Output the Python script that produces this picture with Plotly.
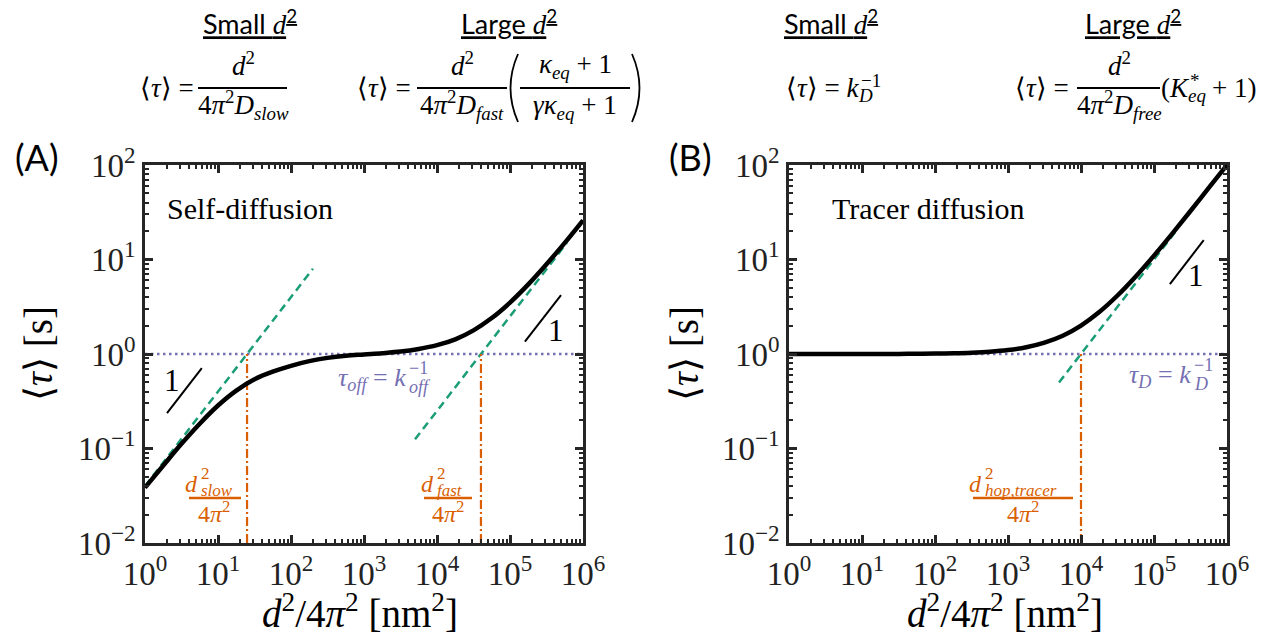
import plotly.graph_objects as go

W, H = 1266, 639

# ---------------- data ----------------
d2_grid = [1, 1.78, 3.16, 5.62, 10, 17.8, 31.6, 56.2, 100, 178, 316, 562, 1000,
           1780, 3160, 5620, 1e4, 1.78e4, 3.16e4, 5.62e4, 1e5, 1.78e5, 3.16e5, 5.62e5, 1e6]
tau_self = [0.0385, 0.066, 0.112, 0.183, 0.285, 0.41, 0.54, 0.65, 0.75, 0.84, 0.91, 0.96, 0.99,
            1.02, 1.06, 1.13, 1.24, 1.43, 1.78, 2.4, 3.5, 5.45, 8.9, 15.0, 26.0]
tau_tracer = [1.0001, 1.0002, 1.0003, 1.0006, 1.001, 1.002, 1.003, 1.006, 1.01, 1.018, 1.032, 1.056, 1.10,
              1.18, 1.32, 1.56, 2.0, 2.78, 4.16, 6.62, 11.0, 18.8, 32.6, 57.2, 100]

slow_asym_x, slow_asym_y = [1, 200], [0.04, 8]
fast_asym_x, fast_asym_y = [5000, 6e5], [0.125, 15]
tracer_asym_x, tracer_asym_y = [5000, 2e5], [0.5, 20]

plateau_x, plateau_y = [1, 1e6], [1, 1]

d2_slow = 25
d2_fast = 4e4
d2_hop = 1e4
vline_y = [0.01, 1]

slopeA1_x, slopeA1_y = [2, 6], [0.237, 0.71]
slopeA2_x, slopeA2_y = [1.6e5, 5e5], [1.35, 4.2]
slopeB_x, slopeB_y = [1.65e5, 4.8e5], [5.5, 16]

xtick_vals = [1, 10, 100, 1e3, 1e4, 1e5, 1e6]
xtick_text = ["10<sup>0</sup>", "10<sup>1</sup>", "10<sup>2</sup>", "10<sup>3</sup>",
              "10<sup>4</sup>", "10<sup>5</sup>", "10<sup>6</sup>"]
ytick_vals = [0.01, 0.1, 1, 10, 100]
ytick_text = ["10<sup>\u22122</sup>", "10<sup>\u22121</sup>", "10<sup>0</sup>",
              "10<sup>1</sup>", "10<sup>2</sup>"]

# ---------------- styling ----------------
SERIF = "Liberation Serif"
SANS = "Lato"
GREEN = "#1b9e77"
ORANGE = "#d95f02"
PURPLE = "#7570b3"
AXC = "#262626"

fig = go.Figure()

def add(x, y, color, width, dash="solid", xa="x", ya="y", shape="linear"):
    fig.add_trace(go.Scatter(x=x, y=y, mode="lines", xaxis=xa, yaxis=ya,
                             line=dict(color=color, width=width, dash=dash, shape=shape),
                             showlegend=False, hoverinfo="skip"))

# panel A
add(plateau_x, plateau_y, PURPLE, 2.5, "2.5px,3.5px")
add(slow_asym_x, slow_asym_y, GREEN, 2.5, "8px,5px")
add(fast_asym_x, fast_asym_y, GREEN, 2.5, "8px,5px")
add([d2_slow, d2_slow], vline_y, ORANGE, 2.2, "9px,3px,2px,3px")
add([d2_fast, d2_fast], vline_y, ORANGE, 2.2, "9px,3px,2px,3px")
add(slopeA1_x, slopeA1_y, "black", 2)
add(slopeA2_x, slopeA2_y, "black", 2)
add(d2_grid, tau_self, "black", 4.5, shape="spline")
# panel B
add(plateau_x, plateau_y, PURPLE, 2.5, "2.5px,3.5px", "x2", "y2")
add(tracer_asym_x, tracer_asym_y, GREEN, 2.5, "8px,5px", "x2", "y2")
add([d2_hop, d2_hop], vline_y, ORANGE, 2.2, "9px,3px,2px,3px", "x2", "y2")
add(slopeB_x, slopeB_y, "black", 2, xa="x2", ya="y2")
add(d2_grid, tau_tracer, "black", 4.5, xa="x2", ya="y2", shape="spline")

minor_x = [m * 10 ** k for k in range(0, 6) for m in range(2, 10)]
minor_y = [m * 10.0 ** k for k in range(-2, 2) for m in range(2, 10)]

def axis(domain, rng, vals, text, minor_vals, anchor, fam=SERIF):
    return dict(type="log", domain=domain, range=rng, anchor=anchor, automargin=False,
                tickmode="array", tickvals=vals, ticktext=text,
                ticks="inside", ticklen=8, tickwidth=2.5, tickcolor=AXC,
                showline=True, linecolor=AXC, linewidth=2.5, mirror="ticks",
                showgrid=False, zeroline=False,
                tickfont=dict(family=fam, size=33, color="#222222"),
                minor=dict(tickmode="array", tickvals=minor_vals, ticks="inside",
                           ticklen=4, tickwidth=2, tickcolor=AXC, showgrid=False))

ydom = [1 - 543 / H, 1 - 165 / H]
fig.update_layout(
    width=W, height=H, margin=dict(l=0, r=0, t=0, b=0, autoexpand=False),
    template="none", font=dict(family=SERIF),
    paper_bgcolor="white", plot_bgcolor="white",
    xaxis=axis([145 / W, 583 / W], [0, 6], xtick_vals, xtick_text, minor_x, "y"),
    yaxis=axis(ydom, [-2, 2], ytick_vals, ytick_text, minor_y, "x"),
    xaxis2=axis([789 / W, 1227 / W], [0, 6], xtick_vals, xtick_text, minor_x, "y2"),
    yaxis2=axis(ydom, [-2, 2], ytick_vals, ytick_text, minor_y, "x2"),
)

anns = []
shapes = []

def ann(x, y, text, size, color="black", family=SERIF, xanchor="center", yanchor="middle", angle=0):
    anns.append(dict(x=x / W, y=1 - y / H, xref="paper", yref="paper", text=text, showarrow=False,
                     font=dict(size=size, color=color, family=family),
                     xanchor=xanchor, yanchor=yanchor, textangle=angle, borderpad=0))

def bar(x0, x1, y, color="black", width=2):
    shapes.append(dict(type="line", xref="paper", yref="paper", x0=x0 / W, x1=x1 / W,
                       y0=1 - y / H, y1=1 - y / H, line=dict(color=color, width=width)))

def paren(xe, xm, y0, y1):
    ym = (y0 + y1) / 2
    path = "M {:.5f},{:.5f} Q {:.5f},{:.5f} {:.5f},{:.5f}".format(
        xe / W, 1 - y0 / H, xm / W, 1 - ym / H, xe / W, 1 - y1 / H)
    shapes.append(dict(type="path", xref="paper", yref="paper", path=path,
                       line=dict(color="black", width=1.8)))

def stack(xb, yb, base, sup, sub, size, color, ysup, ysub):
    ann(xb, yb, base, size, color, xanchor="right")
    ann(xb + 1, ysup, sup, int(size * 0.72), color, xanchor="left")
    ann(xb + 1, ysub, sub, int(size * 0.72), color, xanchor="left")

TAU = "\u27e8<i>\u03c4</i>\u27e9"

# ---- top formulas ----
for cx, word in [(250, "Small"), (509, "Large"), (831, "Small"), (1133, "Large")]:
    ann(cx, 22, "<u>" + word + " <span style='font-family:Liberation Serif'><i>d</i></span><sup>2</sup></u>",
        27, family=SANS)

EQ = 27
# formula 1
ann(195, 88, TAU + " =", EQ, xanchor="right")
ann(243, 64, "<i>d</i><sup>2</sup>", EQ)
bar(198, 287, 88)
ann(243, 105, "4<i>\u03c0</i><sup>2</sup><i>D</i><sub><i>slow</i></sub>", EQ)
# formula 2
ann(412, 88, TAU + " =", EQ, xanchor="right")
ann(462, 64, "<i>d</i><sup>2</sup>", EQ)
bar(417, 507, 88)
ann(462, 105, "4<i>\u03c0</i><sup>2</sup><i>D</i><sub><i>fast</i></sub>", EQ)
paren(518, 503, 54, 122)
paren(632, 647, 54, 122)
ann(575, 66, "<i>\u03ba</i><sub><i>eq</i></sub> + 1", EQ)
bar(520, 630, 88)
ann(575, 107, "<i>\u03b3\u03ba</i><sub><i>eq</i></sub> + 1", EQ)
# formula 3
ann(785, 88, TAU + " = <i>k</i>", EQ, xanchor="left")
ann(860, 80, "\u22121", 19, xanchor="left")
ann(857, 96, "<i>D</i>", 19, xanchor="left")
# formula 4
ann(1070, 88, TAU + " =", EQ, xanchor="right")
ann(1119, 64, "<i>d</i><sup>2</sup>", EQ)
bar(1077, 1160, 88)
ann(1119, 105, "4<i>\u03c0</i><sup>2</sup><i>D</i><sub><i>free</i></sub>", EQ)
ann(1160, 88, "(<i>K</i>", EQ, xanchor="left")
ann(1189, 80, "*", 19, xanchor="left")
ann(1187, 96, "<i>eq</i>", 19, xanchor="left")
ann(1211, 88, "+ 1)", EQ, xanchor="left")

# ---- panel labels ----
ann(37, 157, "(A)", 36, family=SANS)
ann(690, 157, "(B)", 36, family=SANS)
ann(250, 208, "Self-diffusion", 30)
ann(928, 208, "Tracer diffusion", 30)

# ---- axis titles ----
XT = "<i>d</i><sup>2</sup>/4<i>\u03c0</i><sup>2</sup> [nm<sup>2</sup>]"
YT = TAU + " [s]"
ann(360, 611, XT, 39)
ann(1005, 611, XT, 39)
ann(38, 354, YT, 39, angle=-90)
ann(684, 354, YT, 39, angle=-90)

# ---- slope labels ----
ann(172, 380, "1", 31)
ann(556, 330, "1", 31)
ann(1196, 275, "1", 31)

# ---- plateau labels ----
stack(407, 379, "<i>\u03c4</i><sub><i>off</i></sub> = <i>k</i>", "\u22121", "<i>off</i>", 26, PURPLE, 368, 387)
stack(1192, 376, "<i>\u03c4</i><sub><i>D</i></sub> = <i>k</i>", "\u22121", "<i>D</i>", 26, PURPLE, 365, 384)

# ---- orange crossover labels ----
def crossover(cx, x0, x1, xd, sub):
    stack(xd, 484, "<i>d</i>", "2", "<i>" + sub + "</i>", 24, ORANGE, 473, 490)
    bar(x0, x1, 498, ORANGE, 2.5)
    ann(cx, 512, "4<i>\u03c0</i><sup>2</sup>", 24, ORANGE)

crossover(214, 189, 241, 199, "slow")
crossover(448, 424, 472, 435, "fast")
crossover(1023, 973, 1073, 983, "hop,tracer")

fig.update_layout(annotations=anns, shapes=shapes)
fig.write_html("out.html")
